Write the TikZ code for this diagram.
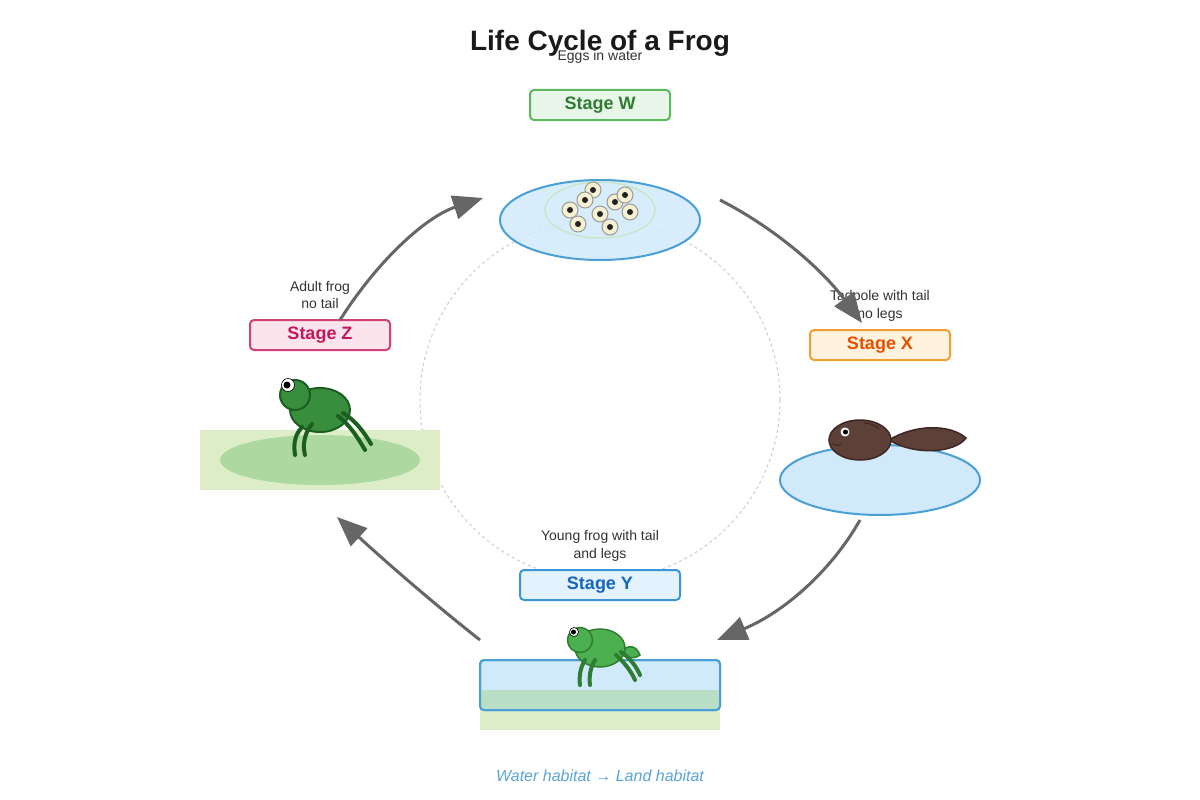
\documentclass[tikz,border=0pt]{standalone}
\usepackage{fontspec}
\setmainfont{Liberation Sans}
\usetikzlibrary{arrows.meta}
\usetikzlibrary{positioning}
\definecolor{arrowGray}{HTML}{666666}
\definecolor{textGray}{HTML}{333333}
\definecolor{titleBlack}{HTML}{1A1A1A}
\definecolor{ringGray}{HTML}{CCCCCC}
\definecolor{waterFill}{HTML}{D0EAFB}
\definecolor{waterLine}{HTML}{4A9FD4}
\definecolor{landFill}{HTML}{DCEDC8}
\definecolor{grassFill}{HTML}{ADD9A0}
\definecolor{bandFill}{HTML}{B9DEC6}
\definecolor{clusterLine}{HTML}{C8E6C9}
\definecolor{eggFill}{HTML}{F5F0D2}
\definecolor{eggLine}{HTML}{999999}
\definecolor{eggDot}{HTML}{222222}
\definecolor{tadFill}{HTML}{5D4037}
\definecolor{tadLine}{HTML}{3E2723}
\definecolor{adultFill}{HTML}{388E3C}
\definecolor{adultLine}{HTML}{1B5E20}
\definecolor{youngFill}{HTML}{4CAF50}
\definecolor{youngLine}{HTML}{2E7D32}
\definecolor{wFill}{HTML}{E8F5E9}
\definecolor{wLine}{HTML}{5CB85C}
\definecolor{wText}{HTML}{2E7D32}
\definecolor{xFill}{HTML}{FFF3E0}
\definecolor{xLine}{HTML}{F0A030}
\definecolor{xText}{HTML}{E65100}
\definecolor{yFill}{HTML}{E3F2FD}
\definecolor{yLine}{HTML}{3A96D6}
\definecolor{yText}{HTML}{1565C0}
\definecolor{zFill}{HTML}{FCE4EC}
\definecolor{zLine}{HTML}{D0407A}
\definecolor{zText}{HTML}{C2185B}
\definecolor{capText}{HTML}{5AA5D5}
\tikzset{
  stagebox/.style={draw, rounded corners=4pt, line width=2pt, minimum width=140pt, minimum height=30pt, inner sep=0pt, font=\fontsize{18}{22}\selectfont\bfseries},
  desc/.style={align=center, text=textGray, font=\fontsize{14}{17.5}\selectfont},
  cyclearrow/.style={draw=arrowGray, line width=3pt, -{Triangle[length=30pt,width=24pt]}},
  egg/.style={circle, draw=eggLine, fill=eggFill, line width=1pt, minimum size=16pt, inner sep=0pt,
    path picture={\fill[eggDot] (path picture bounding box.center) circle (3pt);}},
  pond/.style={fill=waterFill, draw=waterLine, line width=2pt},
  leg/.style={line width=4pt, line cap=round}
}
\begin{document}
\begin{tikzpicture}[x=1pt, y=-1pt]
\fill[white] (0,0) rectangle (1200,800);
\useasboundingbox (0,0) rectangle (1200,800);

\draw[ringGray, dashed, line width=1pt] (600,400) circle (180);

\node[anchor=base, text=titleBlack, font=\fontsize{28}{34}\selectfont\bfseries] (title) at (600,51) {Life Cycle of a Frog};

\begin{scope}
  \node[desc, anchor=base] (wdesc) at (600,61) {Eggs in water};
  \node[stagebox, draw=wLine, fill=wFill, text=wText] (sw) at (600,105) {Stage W};
  \draw[pond, fill opacity=0.85] (600,220) ellipse (100 and 40);
  \draw[draw=clusterLine, line width=1.5pt] (600,210) ellipse (55 and 28);
  \node[egg] (e1) at (593,190) {};
  \node[egg] (e2) at (585,200) {};
  \node[egg] (e3) at (570,210) {};
  \node[egg] (e4) at (578,224) {};
  \node[egg] (e5) at (600,214) {};
  \node[egg] (e6) at (610,227) {};
  \node[egg] (e7) at (615,202) {};
  \node[egg] (e8) at (625,195) {};
  \node[egg] (e9) at (630,212) {};
\end{scope}

\begin{scope}
  \node[desc] (xdesc) at (880,306) {Tadpole with tail\\no legs};
  \node[stagebox, draw=xLine, fill=xFill, text=xText] (sx) at (880,345) {Stage X};
  \draw[pond] (880,480) ellipse (100 and 35);
  \draw[fill=tadFill, draw=tadLine, line width=1.5pt] (889,440) .. controls (915,424) and (950,424) .. (966,438)
    .. controls (955,453) and (915,456) .. (889,440) -- cycle;
  \draw[fill=tadFill, draw=tadLine, line width=1.5pt] (860,440) ellipse (31 and 20);
  \draw[tadLine, line width=1pt] (864,423) .. controls (871,423) and (876,426) .. (879,429);
  \draw[tadLine, line width=1pt] (832,443) .. controls (835,446) and (838,446) .. (841,444);
  \fill[white] (845,432) circle (4.5);
  \fill[black] (845.5,432) circle (2.5);
\end{scope}

\begin{scope}
  \node[desc] (ydesc) at (600,546) {Young frog with tail\\and legs};
  \node[stagebox, minimum width=160pt, draw=yLine, fill=yFill, text=yText] (sy) at (600,585) {Stage Y};
  \fill[landFill] (480,705) rectangle (720,730);
  \draw[pond, rounded corners=4pt] (480,660) rectangle (720,710);
  \fill[bandFill] (481,690) rectangle (719,709);
  \draw[waterLine, line width=2pt, rounded corners=4pt] (480,660) rectangle (720,710);
  \draw[fill=youngFill, draw=youngLine, line width=1.5pt] (621,652) .. controls (628,644) and (636,645) .. (640,655)
    .. controls (633,660) and (627,658) .. (621,652) -- cycle;
  \draw[fill=youngFill, draw=youngLine, line width=1.5pt] (600,648) ellipse (25 and 19);
  \draw[fill=youngFill, draw=youngLine, line width=1.5pt] (580,640) circle (12.5);
  \draw[youngLine, leg] (585,660) .. controls (580,668) and (579,677) .. (580,685);
  \draw[youngLine, leg] (595,660) .. controls (590,668) and (589,677) .. (590,685);
  \draw[youngLine, leg] (616,655) .. controls (624,662) and (631,671) .. (635,680);
  \draw[youngLine, leg] (621,652) .. controls (630,658) and (636,666) .. (640,675);
  \draw[fill=white, draw=black, line width=0.6pt] (574,632) circle (4.5);
  \fill[black] (573.5,632) circle (2.5);
\end{scope}

\begin{scope}
  \node[desc] (zdesc) at (320,295) {Adult frog\\no tail};
  \node[stagebox, draw=zLine, fill=zFill, text=zText] (sz) at (320,335) {Stage Z};
  \fill[landFill] (200,430) rectangle (440,490);
  \fill[grassFill] (320,460) ellipse (100 and 25);
  \draw[fill=adultFill, draw=adultLine, line width=2pt] (320,410) ellipse (30 and 22);
  \draw[fill=adultFill, draw=adultLine, line width=2pt] (295,395) circle (15);
  \draw[adultLine, leg] (302,427) .. controls (293,437) and (294,447) .. (295,455);
  \draw[adultLine, leg] (312,424) .. controls (303,435) and (303,447) .. (305,455);
  \draw[adultLine, leg] (338,416) .. controls (350,425) and (358,438) .. (365,450);
  \draw[adultLine, leg] (343,413) .. controls (355,420) and (364,432) .. (371,444);
  \draw[fill=white, draw=black, line width=0.6pt] (288,385) circle (6.5);
  \fill[black] (287,385) circle (3.5);
\end{scope}

\coordinate (wx1) at (720,200);
\coordinate (wx2) at (862,323);
\coordinate (xy1) at (860,520);
\coordinate (xy2) at (717,640);
\coordinate (yz1) at (480,640);
\coordinate (yz2) at (337,517);
\coordinate (zw1) at (340,320);
\coordinate (zw2) at (483,198);
\draw[cyclearrow] (wx1) .. controls (773,227) and (821,268) .. (wx2);
\draw[cyclearrow] (xy1) .. controls (830,573) and (782,613) .. (xy2);
\draw[cyclearrow] (yz1) .. controls (433,603) and (386,562) .. (yz2);
\draw[cyclearrow] (zw1) .. controls (380,257) and (428,216) .. (zw2);

\node[anchor=base, text=capText, font=\fontsize{16}{20}\selectfont\itshape] (caption) at (600,781) {Water habitat → Land habitat};
\end{tikzpicture}
\end{document}
